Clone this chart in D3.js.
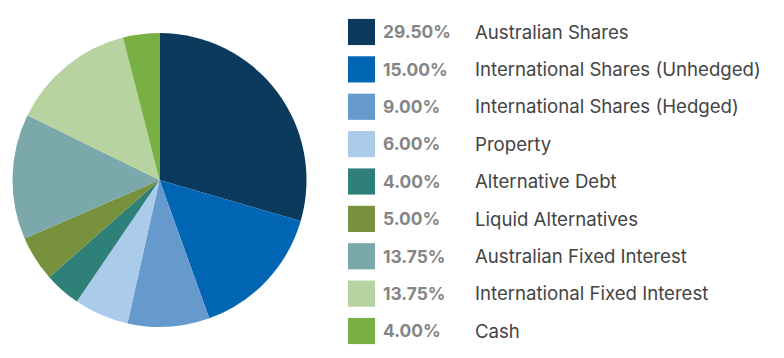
<!DOCTYPE html>
<html><head><meta charset="utf-8">
<script src="https://cdn.jsdelivr.net/npm/d3@7"></script>
<style>html,body{margin:0;padding:0;background:#fff;}svg{display:block;}</style>
</head><body>
<svg id="chart" width="784" height="358"></svg>
<script>
const categories = ["Australian Shares","International Shares (Unhedged)","International Shares (Hedged)","Property","Alternative Debt","Liquid Alternatives","Australian Fixed Interest","International Fixed Interest","Cash"];
const values = [29.50,15.00,9.00,6.00,4.00,5.00,13.75,13.75,4.00];
const colors = ["#0c3a5c","#0066b3","#6699cc","#abcbea","#2e8079","#78913c","#7aa8ab","#b7d3a0","#78b043"];

const svg = d3.select("#chart");
const cx = 159.5, cy = 180, r = 147;
const pie = d3.pie().sort(null).value(d => d)(values);
const arc = d3.arc().innerRadius(0).outerRadius(r);
svg.append("g").attr("transform",`translate(${cx},${cy})`)
  .selectAll("path").data(pie).join("path")
  .attr("d",arc).attr("fill",(d,i)=>colors[i]);

const y = d3.scaleBand().domain(categories).range([7.7, 355.3]).padding(0.3);
const leg = svg.append("g").selectAll("g").data(categories).join("g")
  .attr("transform",d=>`translate(0,${y(d)})`);
leg.append("rect").attr("x",348).attr("y",0).attr("width",27).attr("height",y.bandwidth())
  .attr("fill",(d,i)=>colors[i]);
const pct = leg.append("text").attr("x",383).attr("y",y.bandwidth()/2).attr("dy","0.36em")
  .attr("font-family","Inter, Liberation Sans, sans-serif").attr("font-size",17.5)
  .attr("font-weight","bold").attr("fill","#858585")
  .text((d,i)=>values[i].toFixed(2)+"%");
const lab = leg.append("text").attr("x",475).attr("y",y.bandwidth()/2).attr("dy","0.36em")
  .attr("font-family","Inter, Liberation Sans, sans-serif").attr("font-size",17.5)
  .attr("fill","#444")
  .text(d=>d);
// fit widths to reference proportions
const targetLab = 286 / lab.nodes()[1].getComputedTextLength();
const targetPct = 68 / pct.nodes()[0].getComputedTextLength();
lab.attr("font-size", 17.5 * Math.min(targetLab, 1.15));
pct.attr("font-size", 17.5 * Math.min(targetPct, 1.15));
</script>
</body></html>
